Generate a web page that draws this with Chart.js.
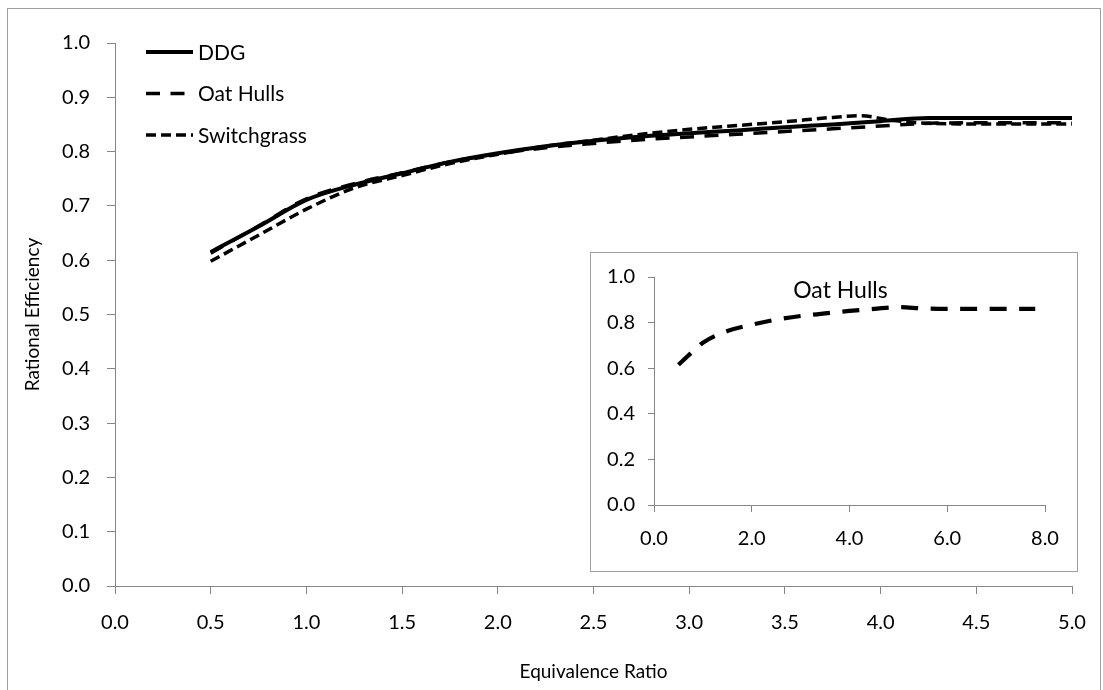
<!DOCTYPE html>
<html>
<head>
<meta charset="utf-8">
<script src="https://cdn.jsdelivr.net/npm/chart.js@4.4.1/dist/chart.umd.min.js"></script>
<style>
html,body{margin:0;padding:0;background:#fff;}
#wrap{position:relative;width:1103px;height:690px;overflow:hidden;background:#fff;}
#frame{position:absolute;left:7px;top:8px;width:1094px;height:700px;border:1px solid #a0a0a0;box-sizing:border-box;}
#main{position:absolute;left:0;top:0;}
#insetBox{position:absolute;left:590px;top:252px;width:488px;height:320px;border:1px solid #a0a0a0;box-sizing:border-box;background:#fff;}
#inset{position:absolute;left:590px;top:252px;}
</style>
</head>
<body>
<div id="wrap">
  <div id="frame"></div>
  <canvas id="main" width="1103" height="690"></canvas>
  <div id="insetBox"></div>
  <canvas id="inset" width="488" height="320"></canvas>
</div>
<script>
// ---- data ----
const phi = [0.5, 0.75, 1.0, 1.25, 1.5, 1.75, 2.0, 2.25, 2.5, 2.75, 3.0, 3.25, 3.5, 3.75, 4.0, 4.25, 4.5, 4.75, 5.0];
const ddg = [0.615, 0.662, 0.711, 0.739, 0.760, 0.781, 0.797, 0.810, 0.820, 0.828, 0.834, 0.839, 0.845, 0.850, 0.856, 0.862, 0.862, 0.862, 0.862];
const oatHulls = [0.613, 0.663, 0.713, 0.741, 0.761, 0.781, 0.796, 0.807, 0.815, 0.822, 0.827, 0.832, 0.837, 0.842, 0.847, 0.852, 0.853, 0.853, 0.853];
const swPhi = [0.5, 0.75, 1.0, 1.25, 1.5, 1.75, 2.0, 2.25, 2.5, 2.75, 3.0, 3.25, 3.5, 3.75, 3.9, 4.05, 4.25, 4.5, 4.75, 5.0];
const switchgrass = [0.598, 0.646, 0.694, 0.733, 0.756, 0.778, 0.795, 0.810, 0.821, 0.832, 0.841, 0.848, 0.855, 0.863, 0.866, 0.858, 0.852, 0.851, 0.851, 0.851];
const insetPhi = [0.5, 0.75, 1.0, 1.5, 2.0, 2.5, 3.0, 3.5, 4.0, 4.5, 5.0, 5.5, 6.0, 6.5, 7.0, 7.5, 7.8];
const insetOat = [0.615, 0.665, 0.712, 0.763, 0.791, 0.813, 0.829, 0.840, 0.851, 0.860, 0.868, 0.862, 0.860, 0.860, 0.860, 0.860, 0.860];
const seriesNames = ['DDG', 'Oat Hulls', 'Switchgrass'];
const xTitle = 'Equivalence Ratio';
const yTitle = 'Rational Efficiency';
const insetTitle = 'Oat Hulls';

const toPts = (xs, ys) => xs.map((x, i) => ({x: x, y: ys[i]}));
const fmt1 = v => Number(v).toFixed(1);
const AXIS = '#868686';
const FAM = 'Lato, "Open Sans", sans-serif';
Chart.defaults.font.family = FAM;
Chart.defaults.color = '#000';

const legendPlugin = {
  id: 'insideLegend',
  afterDatasetsDraw(chart) {
    const ctx = chart.ctx, a = chart.chartArea;
    ctx.save();
    chart.data.datasets.forEach((ds, i) => {
      const y = a.top + 9 + i * 41.5;
      const x0 = a.left + 31, x1 = a.left + 78;
      ctx.beginPath();
      ctx.setLineDash(ds.borderDash || []);
      ctx.lineWidth = ds.borderWidth;
      ctx.strokeStyle = ds.borderColor;
      ctx.moveTo(x0, y); ctx.lineTo(x1, y); ctx.stroke();
      ctx.setLineDash([]);
      ctx.fillStyle = '#000';
      ctx.font = '21px ' + FAM;
      ctx.textBaseline = 'middle';
      ctx.textAlign = 'left';
      ctx.fillText(ds.label, x1 + 5, y + 1);
    });
    ctx.restore();
  }
};

function lineDs(label, pts, dash, width) {
  return {label: label, data: pts, borderColor: '#000', backgroundColor: '#000',
    borderWidth: width, borderDash: dash, pointRadius: 0, fill: false,
    cubicInterpolationMode: 'monotone', borderCapStyle: 'butt'};
}

new Chart(document.getElementById('main'), {
  type: 'line',
  data: {datasets: [
    lineDs(seriesNames[0], toPts(phi, ddg), [], 4),
    lineDs(seriesNames[1], toPts(phi, oatHulls), [14, 10.5], 3.5),
    lineDs(seriesNames[2], toPts(swPhi, switchgrass), [10, 5], 3.5)
  ]},
  options: {
    responsive: false, animation: false, devicePixelRatio: 1,
    layout: {padding: {left: 8, top: 43, right: 31, bottom: 0}},
    plugins: {legend: {display: false}, tooltip: {enabled: false}},
    scales: {
      x: {type: 'linear', min: 0, max: 5,
        ticks: {stepSize: 0.5, callback: fmt1, font: {size: 20}, padding: 17, maxRotation: 0, autoSkip: false},
        grid: {drawOnChartArea: false, drawTicks: true, tickLength: 8, color: AXIS},
        border: {display: true, color: AXIS, width: 1},
        title: {display: true, text: xTitle, font: {size: 19}, padding: {top: 0, bottom: 7}},
        afterFit: s => { s.height = 104; }
      },
      y: {type: 'linear', min: 0, max: 1,
        ticks: {stepSize: 0.1, callback: fmt1, font: {size: 20}, padding: 17},
        grid: {drawOnChartArea: false, drawTicks: true, tickLength: 8, color: AXIS},
        border: {display: true, color: AXIS, width: 1},
        title: {display: true, text: yTitle, font: {size: 19}, padding: {top: 13, bottom: 0}},
        afterFit: s => { s.width = 107; }
      }
    }
  },
  plugins: [legendPlugin]
});

const insetTitlePlugin = {
  id: 'insetTitle',
  afterDraw(chart) {
    const ctx = chart.ctx, a = chart.chartArea;
    ctx.save();
    ctx.fillStyle = '#000';
    ctx.font = '23px ' + FAM;
    ctx.textAlign = 'center';
    ctx.textBaseline = 'middle';
    ctx.fillText(insetTitle, (a.left + a.right) / 2 - 9, a.top + 14);
    ctx.restore();
  }
};

new Chart(document.getElementById('inset'), {
  type: 'line',
  data: {datasets: [lineDs(seriesNames[1], toPts(insetPhi, insetOat), [17, 12.5], 4.25)]},
  options: {
    responsive: false, animation: false, devicePixelRatio: 1,
    layout: {padding: {left: 0, top: 17, right: 33, bottom: 0}},
    plugins: {legend: {display: false}, tooltip: {enabled: false}},
    scales: {
      x: {type: 'linear', min: 0, max: 8,
        ticks: {stepSize: 2, callback: fmt1, font: {size: 20}, padding: 15, maxRotation: 0, autoSkip: false},
        grid: {drawOnChartArea: false, drawTicks: true, tickLength: 7, color: AXIS},
        border: {display: true, color: AXIS, width: 1},
        afterFit: s => { s.height = 67; }
      },
      y: {type: 'linear', min: 0, max: 1,
        ticks: {stepSize: 0.2, callback: fmt1, font: {size: 20}, padding: 13},
        grid: {drawOnChartArea: false, drawTicks: true, tickLength: 6, color: AXIS},
        border: {display: true, color: AXIS, width: 1},
        afterFit: s => { s.width = 64; }
      }
    }
  },
  plugins: [insetTitlePlugin]
});
</script>
</body>
</html>
